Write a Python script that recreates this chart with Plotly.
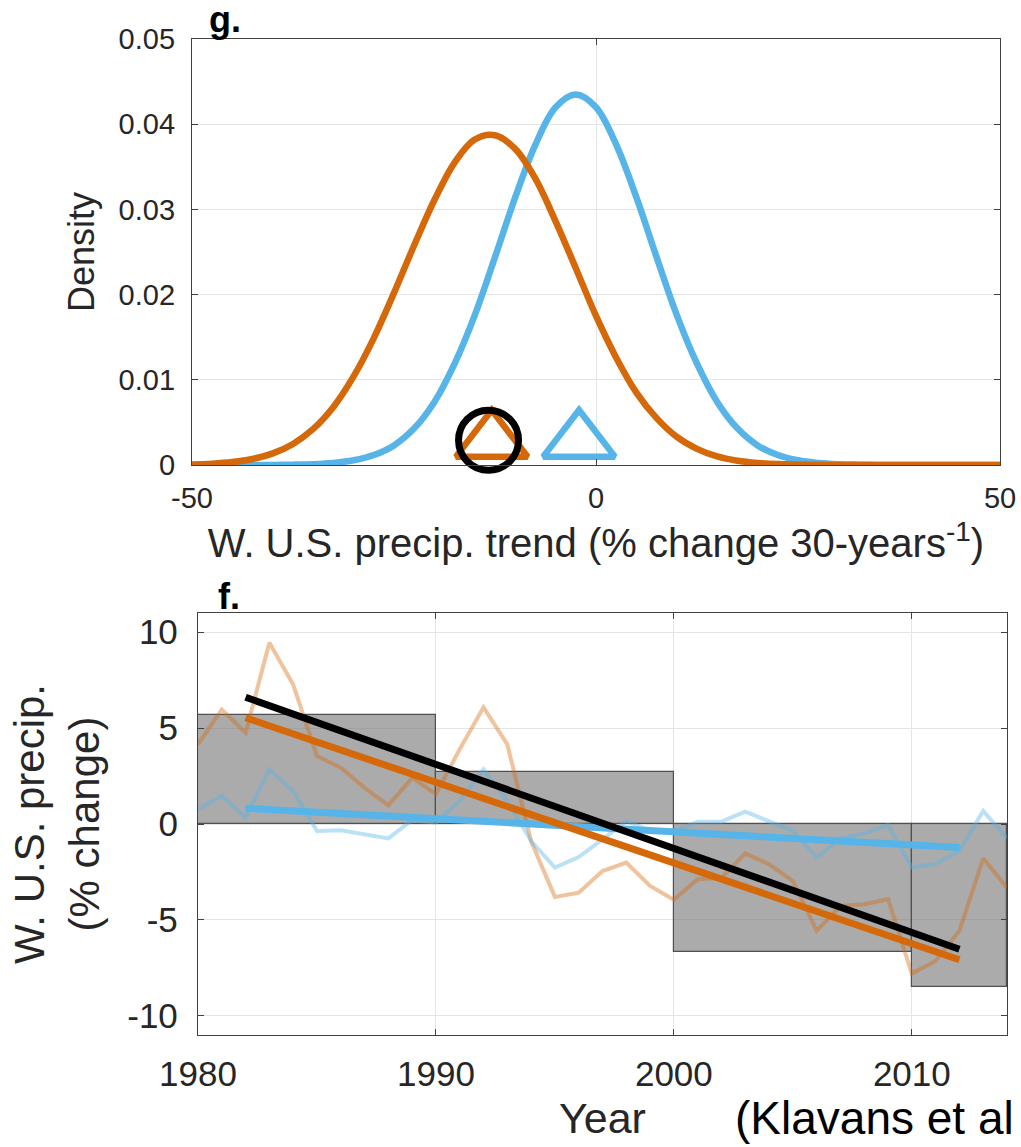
import plotly.graph_objects as go

# ---------------- data: panel g (density of 30-yr trends) ----------------
trend_x = [-50, -47.5, -45, -42.5, -40, -37.5, -35, -32.5, -30, -27.5, -25, -22.5, -20,
           -17.5, -15, -12.5, -10, -7.5, -5, -2.5, 0, 2.5, 5, 7.5, 10, 12.5, 15, 17.5,
           20, 22.5, 25, 27.5, 30, 32.5, 35, 37.5, 40, 42.5, 45, 47.5, 50]
density_orange = [0.00007, 0.00016, 0.00035, 0.00071, 0.00136, 0.00247, 0.00423, 0.00682,
                  0.0104, 0.0149, 0.0202, 0.0258, 0.0311, 0.0355, 0.0382, 0.0387, 0.0371,
                  0.0336, 0.0286, 0.0231, 0.0175, 0.0126, 0.0085, 0.0055, 0.0033, 0.0019,
                  0.0010, 0.0005, 0.00024, 0.00011, 0.00005, 0.00002, 0, 0, 0, 0, 0, 0, 0, 0, 0]
density_blue = [0, 0, 0, 0.00001, 0.00001, 0.00004, 0.0001, 0.00024, 0.00055, 0.00117,
                0.0023, 0.0043, 0.0074, 0.0119, 0.0176, 0.0244, 0.0314, 0.0376, 0.0420,
                0.0435, 0.0420, 0.0376, 0.0314, 0.0244, 0.0176, 0.0119, 0.0074, 0.0043,
                0.0023, 0.00117, 0.00055, 0.00024, 0.0001, 0.00004, 0.00001, 0, 0, 0, 0, 0, 0]
tri_orange_x = [-12.9]
tri_blue_x = [-2.1]
tri_y = [0.0028]
obs_circle_x = [-13.3]
obs_circle_y = [0.0029]

# ---------------- data: panel f (time series) ----------------
years = list(range(1980, 2015))
precip_orange = [4.15, 5.97, 4.76, 9.45, 7.27, 3.54, 2.93, 1.89, 0.97, 2.4, 1.57, 3.9, 6.08,
                 4.15, -0.9, -3.8, -3.58, -2.45, -2.01, -3.23, -3.95, -2.88, -2.8, -1.53,
                 -2.1, -2.97, -5.57, -4.27, -4.18, -3.92, -7.8, -7.14, -5.57, -1.79, -3.32]
precip_blue = [0.76, 1.46, 0.33, 2.85, 1.72, -0.36, -0.33, -0.54, -0.75, 0.2, 0.07, 1.2, 2.85,
               1.2, -0.89, -2.27, -1.72, -0.8, 0.16, -0.36, -0.4, 0.12, 0.12, 0.64, 0.16,
               -0.36, -1.75, -0.75, -0.5, -0.05, -2.27, -2.07, -1.41, 0.68, -0.75]
trend_years = [1982, 2012]
trend_black = [6.61, -6.53]
trend_orange = [5.54, -7.08]
trend_blue = [0.82, -1.23]
decade_start = [1980, 1990, 2000, 2010]
decade_end = [1990, 2000, 2010, 2014]
decade_mean = [5.68, 2.7, -6.65, -8.5]

ORANGE = "#D5690A"
BLUE = "#56B4E9"
ORANGE_T = "rgba(213,105,10,0.40)"
BLUE_T = "rgba(86,180,233,0.40)"
TXT = "#262626"
AX = "#404040"
GRID = "#E4E4E4"
FONT = "Liberation Sans, Arial, Helvetica, sans-serif"

W, H = 1021, 1147

fig = go.Figure()

# panel g
fig.add_trace(go.Scatter(x=trend_x, y=density_blue, mode="lines", line=dict(color=BLUE, width=6.5, shape="spline"),
                         xaxis="x", yaxis="y", cliponaxis=False, showlegend=False, hoverinfo="skip"))
fig.add_trace(go.Scatter(x=trend_x, y=density_orange, mode="lines", line=dict(color=ORANGE, width=6.5, shape="spline"),
                         xaxis="x", yaxis="y", cliponaxis=False, showlegend=False, hoverinfo="skip"))
fig.add_trace(go.Scatter(x=tri_orange_x, y=tri_y, mode="markers",
                         marker=dict(symbol="triangle-up-open", size=62, color=ORANGE, line=dict(color=ORANGE, width=6.5)),
                         xaxis="x", yaxis="y", cliponaxis=False, showlegend=False))
fig.add_trace(go.Scatter(x=tri_blue_x, y=tri_y, mode="markers",
                         marker=dict(symbol="triangle-up-open", size=62, color=BLUE, line=dict(color=BLUE, width=6.5)),
                         xaxis="x", yaxis="y", cliponaxis=False, showlegend=False))
fig.add_trace(go.Scatter(x=obs_circle_x, y=obs_circle_y, mode="markers",
                         marker=dict(symbol="circle-open", size=60, color="black", line=dict(color="black", width=7)),
                         xaxis="x", yaxis="y", cliponaxis=False, showlegend=False))

# panel f
bar_x = [(s + e) / 2 for s, e in zip(decade_start, decade_end)]
bar_w = [e - s for s, e in zip(decade_start, decade_end)]
fig.add_trace(go.Bar(x=bar_x, y=decade_mean, width=bar_w,
                     marker=dict(color="rgba(120,120,120,0.62)", line=dict(color="#505050", width=1.2)),
                     xaxis="x2", yaxis="y2", showlegend=False, hoverinfo="skip"))
fig.add_trace(go.Scatter(x=years, y=precip_orange, mode="lines", line=dict(color=ORANGE_T, width=4),
                         xaxis="x2", yaxis="y2", showlegend=False))
fig.add_trace(go.Scatter(x=years, y=precip_blue, mode="lines", line=dict(color=BLUE_T, width=4),
                         xaxis="x2", yaxis="y2", showlegend=False))
fig.add_trace(go.Scatter(x=trend_years, y=trend_blue, mode="lines", line=dict(color=BLUE, width=7),
                         xaxis="x2", yaxis="y2", showlegend=False))
fig.add_trace(go.Scatter(x=trend_years, y=trend_orange, mode="lines", line=dict(color=ORANGE, width=7),
                         xaxis="x2", yaxis="y2", showlegend=False))
fig.add_trace(go.Scatter(x=trend_years, y=trend_black, mode="lines", line=dict(color="black", width=7),
                         xaxis="x2", yaxis="y2", showlegend=False))


def axis_style(size):
    return dict(showline=True, linecolor=AX, linewidth=1.3, mirror="ticks", ticks="inside",
                ticklen=6, tickcolor=AX, showgrid=True, gridcolor=GRID, gridwidth=1,
                zeroline=False, automargin=False, tickfont=dict(family=FONT, color=TXT, size=size))


fig.update_layout(
    width=W, height=H, margin=dict(l=0, r=0, t=0, b=0),
    paper_bgcolor="white", plot_bgcolor="white",
    font=dict(family=FONT, color=TXT),
    bargap=0,
    xaxis=dict(domain=[192 / W, 1000 / W], range=[-50, 50], tickvals=[-50, 0, 50],
               ticktext=["-50", "0", "50"], anchor="y",
               title=dict(text="W. U.S. precip. trend (% change 30-years<sup>-1</sup>)",
                          font=dict(size=40, family=FONT, color=TXT), standoff=16),
               ticklabelstandoff=7, **axis_style(29)),
    yaxis=dict(domain=[1 - 465 / H, 1 - 39 / H], range=[0, 0.05],
               tickvals=[0, 0.01, 0.02, 0.03, 0.04, 0.05],
               ticktext=["0", "0.01", "0.02", "0.03", "0.04", "0.05"], anchor="x",
               title=dict(text="Density", font=dict(size=36, family=FONT, color=TXT), standoff=12),
               ticklabelstandoff=10, **axis_style(29)),
    xaxis2=dict(domain=[198 / W, 1007 / W], range=[1980, 2014], tickvals=[1980, 1990, 2000, 2010],
                ticktext=["1980", "1990", "2000", "2010"], anchor="y2",
                title=dict(text="Year", font=dict(size=43, family=FONT, color=TXT), standoff=10),
                ticklabelstandoff=8, **axis_style(35)),
    yaxis2=dict(domain=[1 - 1035 / H, 1 - 613 / H], range=[-11, 11], tickvals=[-10, -5, 0, 5, 10],
                ticktext=["-10", "-5", "0", "5", "10"], anchor="x2",
                title=dict(text="W. U.S. precip.<br>(% change)", font=dict(size=42, family=FONT, color=TXT), standoff=14),
                ticklabelstandoff=12, **axis_style(35)),
    annotations=[
        dict(text="<b>g.</b>", x=207 / W, y=1 - 19 / H, xref="paper", yref="paper", xanchor="left",
             yanchor="middle", showarrow=False, font=dict(size=36, family=FONT, color="black")),
        dict(text="<b>f.</b>", x=216 / W, y=1 - 596 / H, xref="paper", yref="paper", xanchor="left",
             yanchor="middle", showarrow=False, font=dict(size=36, family=FONT, color="black")),
        dict(text="(Klavans et al", x=733 / W, y=1 - 1118 / H, xref="paper", yref="paper", xanchor="left",
             yanchor="middle", showarrow=False, font=dict(size=46, family=FONT, color="black")),
    ],
)

fig.write_html("out.html")
